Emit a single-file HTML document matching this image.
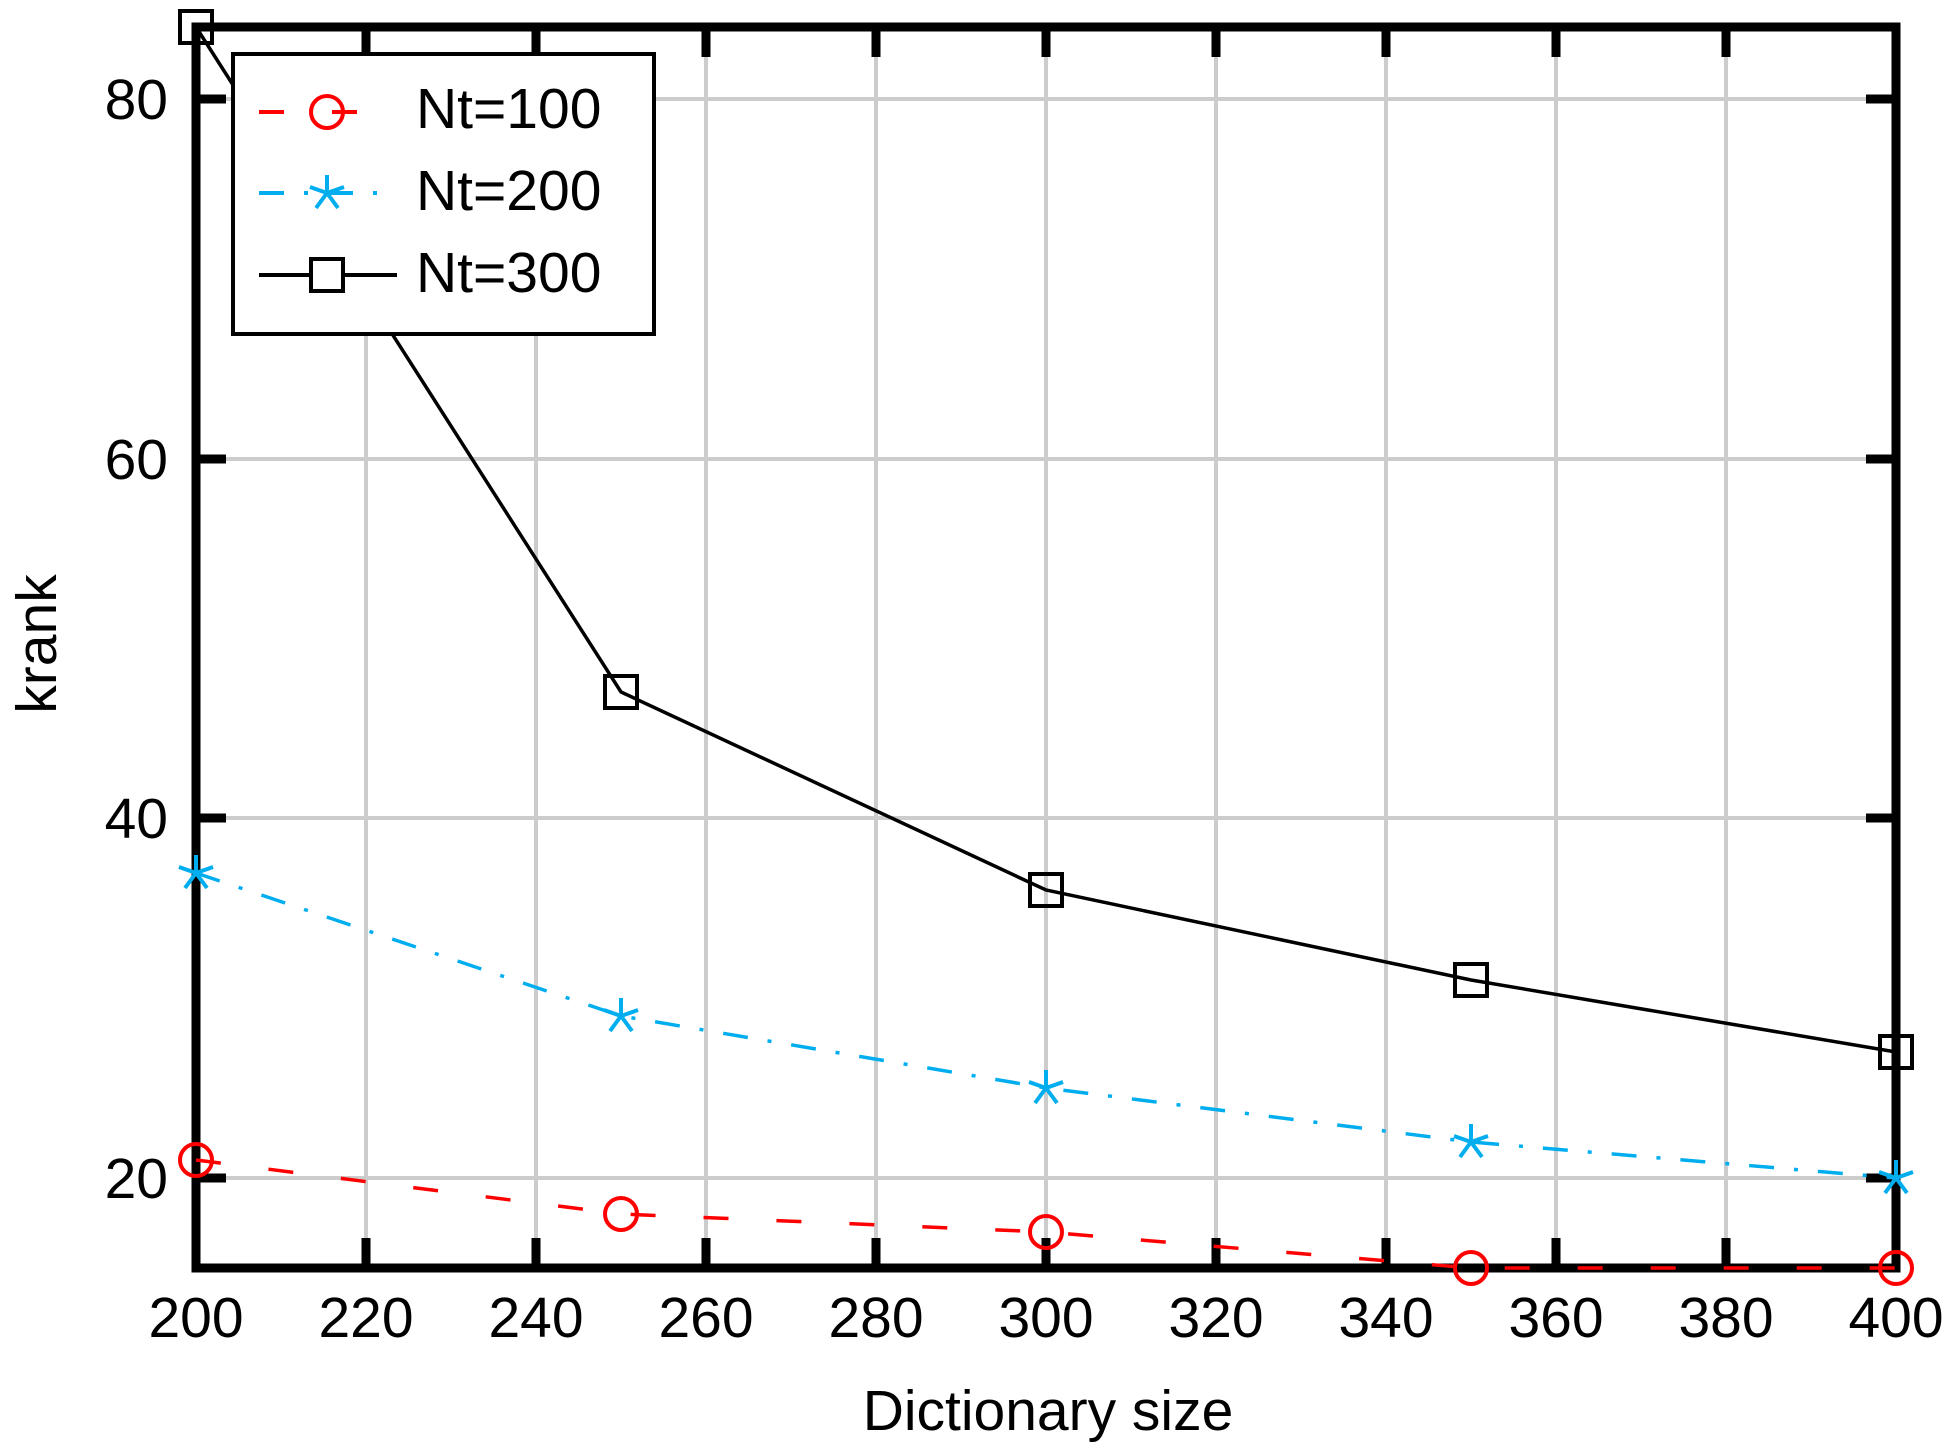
<!DOCTYPE html>
<html><head><style>body{margin:0;background:#fff}svg{display:block}text{font-family:"Liberation Sans",sans-serif;font-size:57px;fill:#000}</style></head><body>
<svg width="1952" height="1443" viewBox="0 0 1952 1443">
<g stroke="#cccccc" stroke-width="4">
<line x1="366" y1="27" x2="366" y2="1268"/><line x1="536" y1="27" x2="536" y2="1268"/><line x1="706" y1="27" x2="706" y2="1268"/><line x1="876" y1="27" x2="876" y2="1268"/><line x1="1046" y1="27" x2="1046" y2="1268"/><line x1="1216" y1="27" x2="1216" y2="1268"/><line x1="1386" y1="27" x2="1386" y2="1268"/><line x1="1556" y1="27" x2="1556" y2="1268"/><line x1="1726" y1="27" x2="1726" y2="1268"/>
<line x1="196" y1="1178" x2="1896" y2="1178"/><line x1="196" y1="818" x2="1896" y2="818"/><line x1="196" y1="459" x2="1896" y2="459"/><line x1="196" y1="99" x2="1896" y2="99"/>
</g>
<g stroke="#000" stroke-width="9">
<line x1="366" y1="27" x2="366" y2="57"/><line x1="536" y1="27" x2="536" y2="57"/><line x1="706" y1="27" x2="706" y2="57"/><line x1="876" y1="27" x2="876" y2="57"/><line x1="1046" y1="27" x2="1046" y2="57"/><line x1="1216" y1="27" x2="1216" y2="57"/><line x1="1386" y1="27" x2="1386" y2="57"/><line x1="1556" y1="27" x2="1556" y2="57"/><line x1="1726" y1="27" x2="1726" y2="57"/>
<line x1="366" y1="1268" x2="366" y2="1238"/><line x1="536" y1="1268" x2="536" y2="1238"/><line x1="706" y1="1268" x2="706" y2="1238"/><line x1="876" y1="1268" x2="876" y2="1238"/><line x1="1046" y1="1268" x2="1046" y2="1238"/><line x1="1216" y1="1268" x2="1216" y2="1238"/><line x1="1386" y1="1268" x2="1386" y2="1238"/><line x1="1556" y1="1268" x2="1556" y2="1238"/><line x1="1726" y1="1268" x2="1726" y2="1238"/>
<line x1="196" y1="1178" x2="226" y2="1178"/><line x1="196" y1="818" x2="226" y2="818"/><line x1="196" y1="459" x2="226" y2="459"/><line x1="196" y1="99" x2="226" y2="99"/>
<line x1="1896" y1="1178" x2="1866" y2="1178"/><line x1="1896" y1="818" x2="1866" y2="818"/><line x1="1896" y1="459" x2="1866" y2="459"/><line x1="1896" y1="99" x2="1866" y2="99"/>
<rect x="196" y="27" width="1700" height="1241" fill="none"/>
</g>
<polyline points="196,1160 621,1214 1046,1232 1471,1268 1896,1268" fill="none" stroke="#ff0000" stroke-width="3.5" stroke-dasharray="25 48"/>
<g fill="none" stroke="#ff0000" stroke-width="4">
<circle cx="196" cy="1160" r="16"/><circle cx="621" cy="1214" r="16"/><circle cx="1046" cy="1232" r="16"/><circle cx="1471" cy="1268" r="16"/><circle cx="1896" cy="1268" r="16"/></g>
<polyline points="196,873 621,1016 1046,1088 1471,1142 1896,1178" fill="none" stroke="#00aeef" stroke-width="3.5" stroke-dasharray="25 20 4 20"/>
<g stroke="#00aeef" stroke-width="4">
<path d="M196,855v18M196,873l-17,-6M196,873l17,-6M196,873l-11,15M196,873l11,15"/>
<path d="M621,998v18M621,1016l-17,-6M621,1016l17,-6M621,1016l-11,15M621,1016l11,15"/>
<path d="M1046,1070v18M1046,1088l-17,-6M1046,1088l17,-6M1046,1088l-11,15M1046,1088l11,15"/>
<path d="M1471,1124v18M1471,1142l-17,-6M1471,1142l17,-6M1471,1142l-11,15M1471,1142l11,15"/>
<path d="M1896,1160v18M1896,1178l-17,-6M1896,1178l17,-6M1896,1178l-11,15M1896,1178l11,15"/>
</g>
<polyline points="196,27 621,692 1046,890 1471,980 1896,1052" fill="none" stroke="#000" stroke-width="3.5"/>
<g fill="none" stroke="#000" stroke-width="4">
<rect x="180" y="11" width="32" height="32"/><rect x="605" y="676" width="32" height="32"/><rect x="1030" y="874" width="32" height="32"/><rect x="1455" y="964" width="32" height="32"/><rect x="1880" y="1036" width="32" height="32"/></g>
<rect x="233" y="54" width="421" height="280" fill="#fff" stroke="#000" stroke-width="4"/>
<line x1="259" y1="112" x2="397" y2="112" stroke="#f00" stroke-width="4" stroke-dasharray="25 48"/>
<circle cx="327" cy="112" r="16" fill="none" stroke="#f00" stroke-width="4"/>
<line x1="259" y1="193" x2="397" y2="193" stroke="#00aeef" stroke-width="4" stroke-dasharray="25 20 4 20"/>
<path d="M327,175v18M327,193l-17,-6M327,193l17,-6M327,193l-11,15M327,193l11,15" stroke="#00aeef" stroke-width="4"/>
<line x1="259" y1="275" x2="397" y2="275" stroke="#000" stroke-width="4"/>
<rect x="311" y="259" width="32" height="32" fill="#fff" stroke="#000" stroke-width="4"/>
<text x="416" y="128">Nt=100</text><text x="416" y="210">Nt=200</text><text x="416" y="292">Nt=300</text>
<g text-anchor="middle">
<text x="196" y="1337">200</text><text x="366" y="1337">220</text><text x="536" y="1337">240</text><text x="706" y="1337">260</text><text x="876" y="1337">280</text><text x="1046" y="1337">300</text><text x="1216" y="1337">320</text><text x="1386" y="1337">340</text><text x="1556" y="1337">360</text><text x="1726" y="1337">380</text><text x="1896" y="1337">400</text>
<text x="1048" y="1430">Dictionary size</text>
<text transform="translate(56,644) rotate(-90)">krank</text>
</g>
<g text-anchor="end">
<text x="168" y="1198">20</text><text x="168" y="838">40</text><text x="168" y="479">60</text><text x="168" y="119">80</text>
</g>
</svg>
</body></html>
